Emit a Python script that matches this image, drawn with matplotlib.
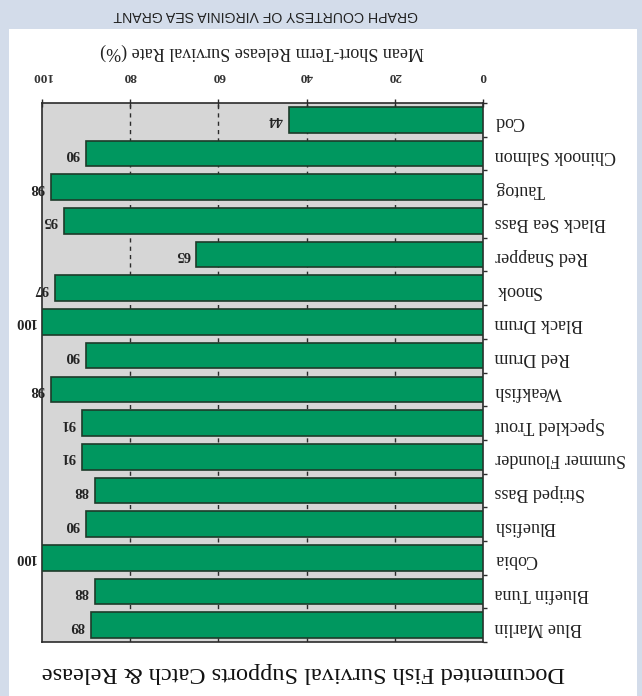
import matplotlib
matplotlib.use('agg')
import matplotlib.pyplot as plt
from matplotlib.patches import Rectangle
import numpy as np

# data, read top-to-bottom as the picture shows it
species = ['Cod', 'Chinook Salmon', 'Tautog', 'Black Sea Bass', 'Red Snapper',
           'Snook', 'Black Drum', 'Red Drum', 'Weakfish', 'Speckled Trout',
           'Summer Flounder', 'Striped Bass', 'Bluefish', 'Cobia',
           'Bluefin Tuna', 'Blue Marlin']
survival = [44, 90, 98, 95, 65, 97, 100, 90, 98, 91, 91, 88, 90, 100, 88, 89]
xticks = [0, 20, 40, 60, 80, 100]

title = 'Documented Fish Survival Supports Catch & Release'
xlabel = 'Mean Short-Term Release Survival Rate (%)'
credit = 'GRAPH COURTESY OF VIRGINIA SEA GRANT'

W, H = 642, 696
serif = ['Liberation Serif', 'DejaVu Serif']
dark = '#2b2b2b'

def px(x, y):
    # pixel (from top-left) to figure fraction
    return x / W, 1 - y / H

fig = plt.figure(figsize=(W / 100, H / 100), dpi=100)
fig.patch.set_facecolor('#d3dcea')
fig.patches.append(Rectangle(px(9, 696), (637 - 9) / W, (696 - 29) / H,
                             transform=fig.transFigure, facecolor='white',
                             edgecolor='none', zorder=-5))

l, b = px(42, 642)
r, t = px(483, 103)
ax = fig.add_axes([l, b, r - l, t - b])
ax.set_zorder(2)
ax.set_facecolor('#d6d6d6')

pos = np.arange(len(species))
ax.barh(pos, survival, height=0.76, color='#00975f', edgecolor='#1d3b2a',
        linewidth=1.2, zorder=3)
for p, v in zip(pos, survival):
    ax.annotate(str(v), (v, p), xytext=(-4.5, 0), textcoords='offset points',
                ha='right', va='center', rotation=180, fontsize=10.5,
                fontweight='bold', family=serif, color='#222222',
                annotation_clip=False)

# whole chart is shown upside down
ax.set_xlim(100, 0)
ax.set_ylim(len(species) - 0.5, -0.5)

ax.xaxis.tick_top()
ax.set_xticks(xticks)
ax.set_xticklabels([str(x) for x in xticks], rotation=180, family=serif,
                   fontsize=9.5, fontweight='bold', color='#333333')
ax.tick_params(axis='x', direction='inout', length=6, width=1, color=dark,
               pad=12)
for x in xticks[1:-1]:
    ax.axvline(x, color=dark, lw=1, ls=(0, (3, 3)), zorder=1)

ax.yaxis.tick_right()
ax.set_yticks(pos)
ax.set_yticklabels(species, rotation=180, family=serif, fontsize=13,
                   color='#222222')
ax.set_yticks(np.arange(len(species) + 1) - 0.5, minor=True)
ax.tick_params(axis='y', which='major', length=0, pad=8.5)
ax.tick_params(axis='y', which='minor', length=3, width=1, color=dark,
               direction='out')
for s in ax.spines.values():
    s.set_color(dark)
    s.set_linewidth(1.2)

fig.text(*px(262, 52), xlabel, rotation=180, ha='center', va='center',
         family=serif, fontsize=13, color='#222222')
fig.text(*px(303, 672), title, rotation=180, ha='center', va='center',
         family=serif, fontsize=17.5, color='#111111')
fig.text(*px(266, 15), credit, rotation=180, ha='center', va='center',
         family=['Liberation Sans', 'DejaVu Sans'], fontsize=10.2,
         color='#222222')

fig.savefig('out.png', dpi=100, facecolor=fig.get_facecolor())
